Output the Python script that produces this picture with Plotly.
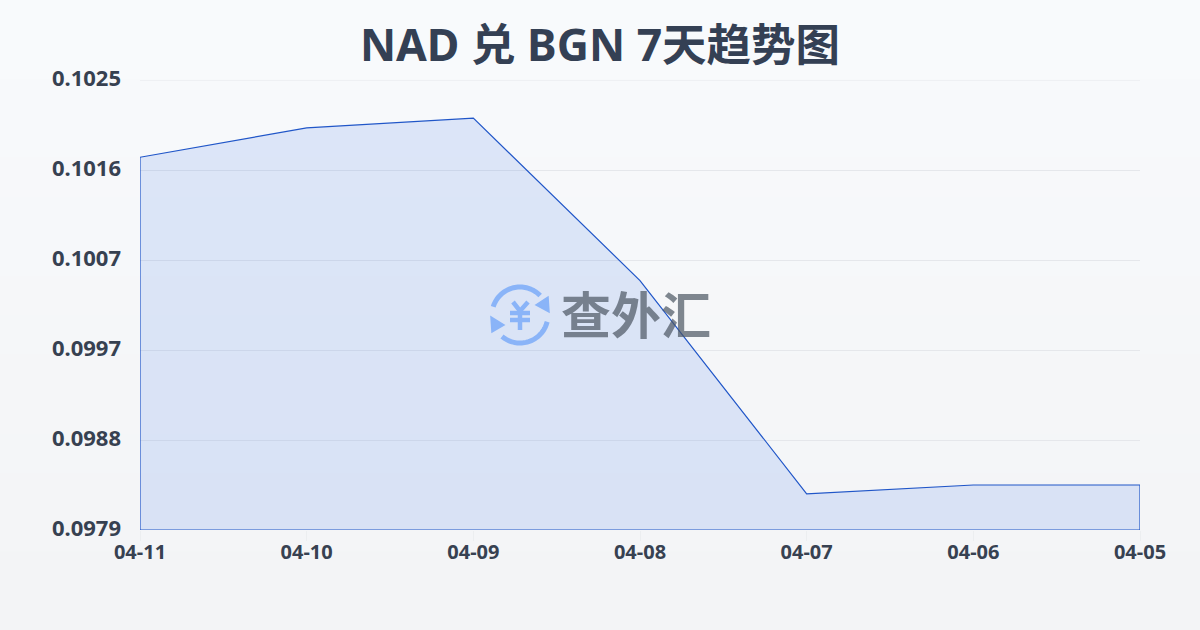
import math
import plotly.graph_objects as go

categories = ["04-11", "04-10", "04-09", "04-08", "04-07", "04-06", "04-05"]
rates = [0.10171, 0.10201, 0.10211, 0.10045, 0.09827, 0.09836, 0.09836]
y_ticks = [0.0979, 0.09882, 0.09974, 0.10066, 0.10158, 0.1025]
y_labels = ["0.0979", "0.0988", "0.0997", "0.1007", "0.1016", "0.1025"]
title_text = "NAD 兑 BGN 7天趋势图"
logo_text = "查外汇"

W, H = 1200, 630
L, R, T, B = 140, 60, 80, 100
PW, PH = W - L - R, H - T - B
FONT = "Noto Sans, Noto Sans CJK SC, sans-serif"
BLUE = "#8ab4f8"


def px(x):
    return (x - L) / PW


def py(y):
    return (H - B - y) / PH


def path(points, close=False):
    s = "M" + " L".join(f"{px(x):.5f},{py(y):.5f}" for x, y in points)
    return s + (" Z" if close else "")


def arc(cx, cy, r, a0, a1, n=40):
    return [(cx + r * math.cos(math.radians(a0 + (a1 - a0) * i / n)),
             cy + r * math.sin(math.radians(a0 + (a1 - a0) * i / n))) for i in range(n + 1)]


shapes = []
# page background: a soft vertical gradient
bands = 16
top, bottom = (248, 250, 252), (243, 244, 246)
for i in range(bands):
    t = i / (bands - 1)
    c = tuple(round(a + (b - a) * t) for a, b in zip(top, bottom))
    shapes.append(dict(type="rect", xref="paper", yref="paper", layer="below", line_width=0,
                       x0=px(0), x1=px(W), y0=py(H * i / bands), y1=py(H * (i + 1) / bands + 1),
                       fillcolor=f"rgb{c}"))

# top gridline, which the axis leaves out at the edge of its range
shapes.append(dict(type="line", xref="paper", x0=0, x1=1, yref="y", y0=y_ticks[-1], y1=y_ticks[-1],
                   layer="below", line=dict(color="#e5e7eb", width=1)))

# logo icon
for pts in (arc(520, 315, 28, 197, 316), arc(520, 315, 28, 14, 130)):
    shapes.append(dict(type="path", xref="paper", yref="paper", path=path(pts), layer="above",
                       line=dict(color=BLUE, width=5)))
for tri in ([(548, 297), (549, 312), (536, 305)], [(491, 317), (492, 332), (504, 325)]):
    shapes.append(dict(type="path", xref="paper", yref="paper", path=path(tri, True), layer="above",
                       fillcolor=BLUE, line=dict(color=BLUE, width=1.5)))
for seg in ([(513, 302), (520, 311), (528, 302)], [(510, 313), (530, 313)],
            [(510, 320), (530, 320)], [(520, 311), (520, 330)]):
    shapes.append(dict(type="path", xref="paper", yref="paper", path=path(seg), layer="above",
                       line=dict(color=BLUE, width=4.5)))

fig = go.Figure()
fig.add_trace(go.Scatter(
    x=categories + [categories[-1], categories[0], categories[0]],
    y=rates + [y_ticks[0], y_ticks[0], rates[0]],
    mode="lines", fill="toself", fillcolor="rgba(37,99,235,0.13)",
    line=dict(color="#2056c8", width=1.2), hoverinfo="skip", showlegend=False, cliponaxis=False,
))
fig.update_layout(
    width=W, height=H, margin=dict(l=L, r=R, t=T, b=B, pad=0),
    paper_bgcolor="#f5f7fa", plot_bgcolor="rgba(0,0,0,0)",
    font=dict(family=FONT, color="#374151"),
    title=dict(text=f"<b>{title_text}</b>", x=0.5, xanchor="center", y=0.928, yanchor="middle",
               font=dict(size=44.5, color="#344054", family=FONT)),
    xaxis=dict(type="category", categoryorder="array", categoryarray=categories, range=[0, 6],
               showgrid=False, zeroline=False, showline=False,
               ticks="outside", ticklen=10, tickwidth=1, tickcolor="#eceef0",
               ticklabelstandoff=-6,
               tickfont=dict(size=20, color="#374151", family=FONT), tickprefix="<b>", ticksuffix="</b>"),
    yaxis=dict(range=[y_ticks[0], y_ticks[-1]], tickvals=y_ticks,
               ticktext=[f"<b>{s}</b>" for s in y_labels],
               showgrid=True, gridcolor="#e5e7eb", gridwidth=1, zeroline=False, showline=False,
               ticks="", ticklabelstandoff=18, ticklabelshift=-2,
               tickfont=dict(size=22, color="#374151", family=FONT)),
    shapes=shapes,
    annotations=[dict(text=f"<b>{logo_text}</b>", xref="paper", yref="paper",
                      x=px(636), y=py(312), xanchor="center", yanchor="middle", showarrow=False,
                      font=dict(size=50, color="rgba(75,85,99,0.7)", family="Noto Sans CJK SC"))],
)
fig.write_html("out.html", config=dict(displayModeBar=False), post_script="document.body.style.margin='0';")
